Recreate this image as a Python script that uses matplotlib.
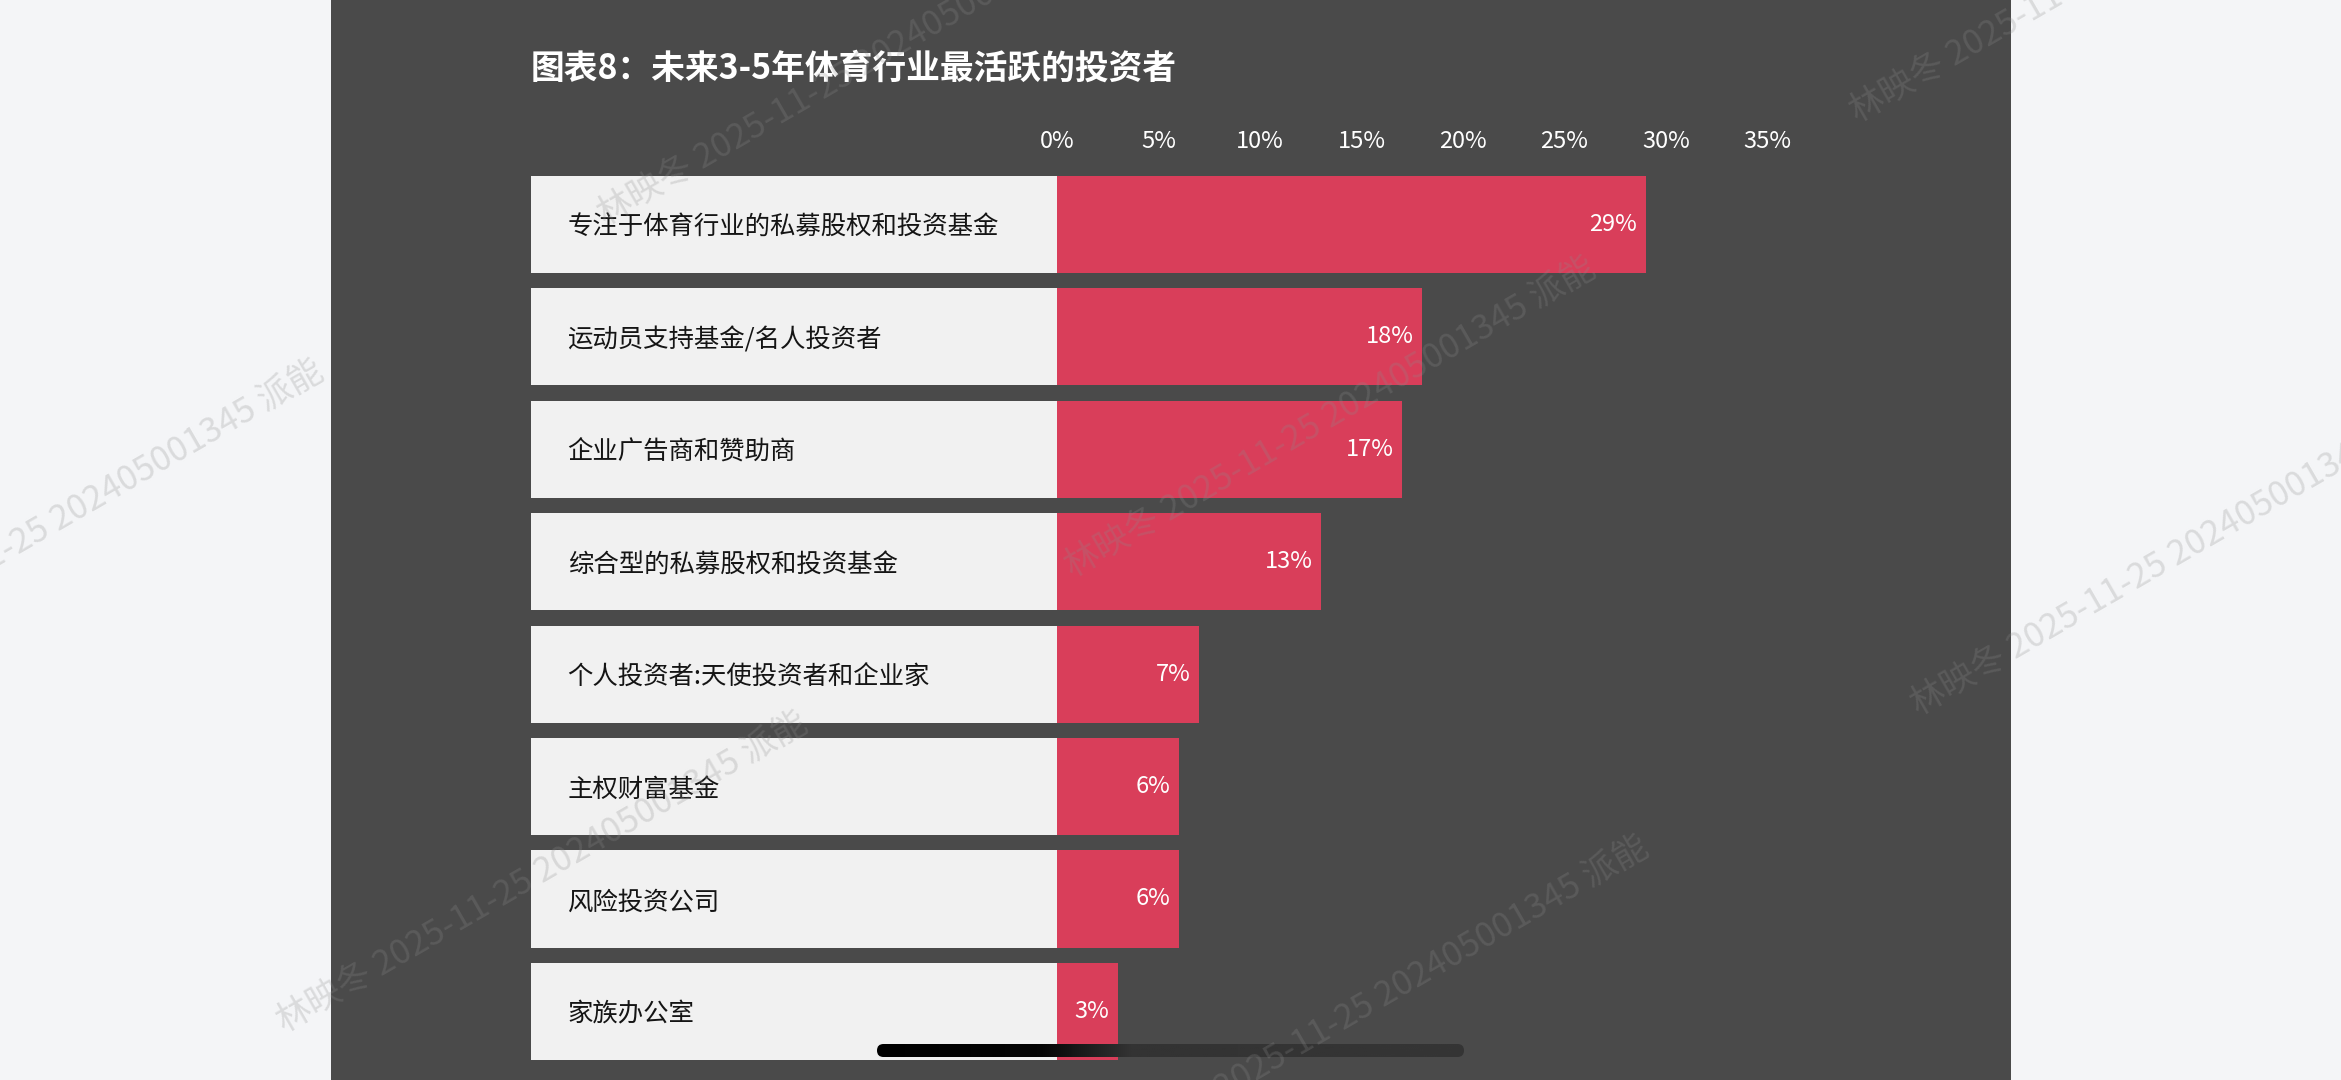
import numpy as np
import matplotlib.pyplot as plt
from matplotlib.patches import FancyBboxPatch

plt.rcParams['font.family'] = ['Noto Sans CJK SC', 'DejaVu Sans']

title = '图表8：未来3-5年体育行业最活跃的投资者'
categories = ['专注于体育行业的私募股权和投资基金', '运动员支持基金/名人投资者', '企业广告商和赞助商',
              '综合型的私募股权和投资基金', '个人投资者:天使投资者和企业家', '主权财富基金',
              '风险投资公司', '家族办公室']
values = [29, 18, 17, 13, 7, 6, 6, 3]
ticks = [0, 5, 10, 15, 20, 25, 30, 35]
tick_labels = ['0%', '5%', '10%', '15%', '20%', '25%', '30%', '35%']
watermark = '林映冬 2025-11-25 202405001345 派能'

W, H = 2341, 1080
fig = plt.figure(figsize=(W / 100, H / 100), dpi=100)
fig.patch.set_facecolor('#f4f5f7')

# background: dark page in the middle
bg = fig.add_axes([0, 0, 1, 1], zorder=0)
bg.set_xlim(0, W); bg.set_ylim(H, 0); bg.axis('off')
bg.axvspan(331, 2011, color='#4a4a4a', lw=0)
bg.text(531, 68, title, color='white', fontsize=24.3, fontweight='bold', va='center', ha='left')

# bar chart: 1 percent = 20.3 px, 0% at x=1057 px
box_left = -25.9
ax = fig.add_axes([531 / W, 0, 1338 / W, (H - 157) / H], zorder=1)
ax.set_facecolor('none')
y = np.arange(len(categories))
ax.barh(y, -box_left, left=box_left, height=0.863, color='#f1f1f1', lw=0)
ax.barh(y, values, height=0.863, color='#d93e5a', lw=0)
for i, (c, v) in enumerate(zip(categories, values)):
    ax.text(box_left + 1.8, i + 0.03, c, color='#151515', fontsize=18.3, va='center', ha='left')
    ax.annotate(f'{v}%', xy=(v, i), xytext=(-6, 0), textcoords='offset points',
                color='white', fontsize=17, va='center', ha='right')
ax.set_xlim(box_left, 40)
ax.set_ylim(7.61, -0.6)
ax.xaxis.tick_top()
ax.set_xticks(ticks)
ax.set_xticklabels(tick_labels)
ax.tick_params(axis='x', length=0, pad=3, labelsize=17, labelcolor='white')
ax.set_yticks([])
for s in ax.spines.values():
    s.set_visible(False)

# overlay: phone scroll pill and watermarks
top = fig.add_axes([0, 0, 1, 1], zorder=5)
top.set_xlim(0, W); top.set_ylim(H, 0); top.axis('off')
pill = FancyBboxPatch((877, 1044), 587, 13, boxstyle='round,pad=0,rounding_size=6.5',
                      fc='none', ec='none')
top.add_patch(pill)
gx = np.linspace(870, 1471, 300)
gray = np.interp(gx, [870, 1040, 1130, 1471], [0.0, 0.02, 0.2, 0.21])
img = top.imshow(np.tile(gray, (2, 1)), cmap='gray', vmin=0, vmax=1, aspect='auto',
                 extent=(870, 1471, 1057, 1044))
img.set_clip_path(pill)
top.set_xlim(0, W); top.set_ylim(H, 0)

for cx, cy in [(1330, 418), (2176, 556), (58, 521), (542, 873), (1383, 997), (863, 66), (2115, -37)]:
    top.text(cx, cy, watermark, fontsize=25, color='#8c8c8c', alpha=0.25, rotation=30,
             rotation_mode='anchor', ha='center', va='center')

fig.savefig('out.png', dpi=100, facecolor=fig.get_facecolor())
